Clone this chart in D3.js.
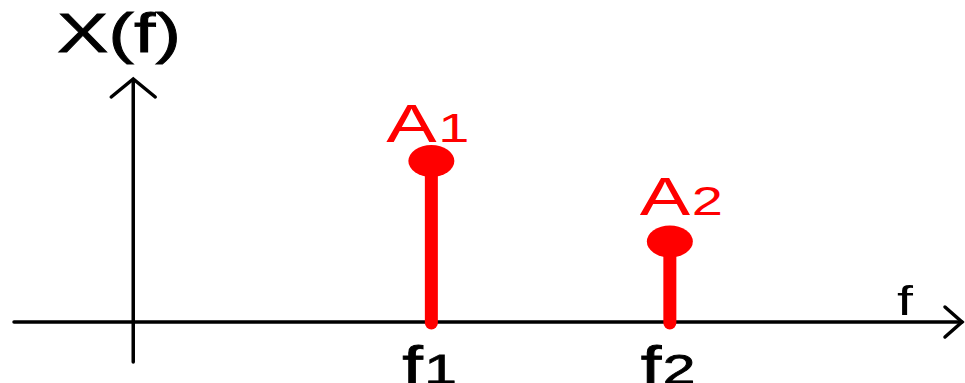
<!DOCTYPE html>
<html><head><meta charset="utf-8">
<script src="https://cdn.jsdelivr.net/npm/d3@7"></script>
<style>html,body{margin:0;padding:0;background:#fff;overflow:hidden}</style>
</head><body>
<svg id="c" width="965" height="383"></svg>
<script>
const categories = ["f1", "f2"];
const freqs = [5, 9];
const amplitudes = [1.0, 0.5];
const ampLabels = ["A1", "A2"];
const axisLabels = { y: "X(f)", x: "f" };

const W = 965, H = 383;
const svg = d3.select("#c");
const x = d3.scaleLinear().domain([-2, 13.9]).range([14, 962]);
const y = d3.scaleLinear().domain([0, 1]).range([322, 161]);
const SX = 1.4;
const FONT = "'Liberation Sans', Arial, sans-serif";

// axes
const ax = svg.append("g").attr("stroke", "#000").attr("stroke-width", 3.5).attr("fill", "none").attr("stroke-linecap", "round");
ax.append("line").attr("x1", x(-2)).attr("x2", x(13.9)).attr("y1", y(0)).attr("y2", y(0));
ax.append("polyline").attr("points", `${x(13.9)-17},${y(0)-15} ${x(13.9)},${y(0)} ${x(13.9)-17},${y(0)+15}`);
const x0 = x(0);
ax.append("line").attr("x1", x0).attr("x2", x0).attr("y1", 362).attr("y2", 80);
ax.append("polyline").attr("points", `${x0-22},97 ${x0},79 ${x0+22},97`);

// stems
const g = svg.append("g");
g.selectAll("line.stem").data(freqs).join("line").attr("class", "stem")
  .attr("x1", d => x(d)).attr("x2", d => x(d))
  .attr("y1", y(0) + 1).attr("y2", (d, i) => y(amplitudes[i]))
  .attr("stroke", "#ff0000").attr("stroke-width", 13).attr("stroke-linecap", "round");
g.selectAll("ellipse").data(freqs).join("ellipse")
  .attr("cx", d => x(d)).attr("cy", (d, i) => y(amplitudes[i]))
  .attr("rx", 23).attr("ry", 16).attr("fill", "#ff0000");

function label(parent, tx, ty, main, sub, size, subSize, color, sw) {
  const t = parent.append("text").attr("transform", `translate(${tx},${ty}) scale(${SX},1)`)
    .attr("font-family", FONT).attr("fill", color).attr("font-size", size);
  if (sw) t.attr("stroke", color).attr("stroke-width", sw);
  t.append("tspan").text(main);
  if (sub) t.append("tspan").attr("font-size", subSize).attr("dx", 1).text(sub);
  return t;
}

// amplitude labels
const offs = [[-45, -19], [-30, -27]];
ampLabels.forEach((l, i) => {
  label(svg, x(freqs[i]) + offs[i][0], y(amplitudes[i]) + offs[i][1], l[0], l.slice(1), 54, 40, "#ff0000", 0);
});

// frequency tick labels
categories.forEach((c, i) => {
  label(svg, x(freqs[i]) - 29, 384, c[0], c.slice(1), 53, 42, "#000", 0.8);
});

// axis titles
label(svg, 57, 52, axisLabels.y, null, 55, 0, "#000", 0.8);
label(svg, 897, 315, axisLabels.x, null, 41, 0, "#000", 0);
</script>
</body></html>
